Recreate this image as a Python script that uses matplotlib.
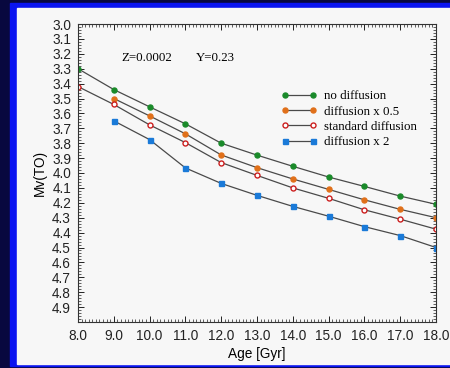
import numpy as np
import matplotlib.pyplot as plt
from matplotlib.patches import Rectangle
from matplotlib.ticker import MultipleLocator, FormatStrFormatter

# ---- data ----
age_full = [8, 9, 10, 11, 12, 13, 14, 15, 16, 17, 18]
age_part = [9, 10, 11, 12, 13, 14, 15, 16, 17, 18]

no_diff = [3.30, 3.44, 3.556, 3.67, 3.80, 3.88, 3.955, 4.027, 4.09, 4.155, 4.21]
diff_half = [3.50, 3.617, 3.737, 3.879, 3.964, 4.04, 4.11, 4.18, 4.244, 4.30]
std_diff = [3.42, 3.54, 3.677, 3.796, 3.93, 4.016, 4.10, 4.17, 4.247, 4.31, 4.377]
diff_two = [3.65, 3.776, 3.966, 4.07, 4.15, 4.224, 4.29, 4.36, 4.42, 4.50]

y_ticks = np.round(np.arange(3.0, 4.95, 0.1), 1)
x_ticks = np.arange(8, 19, 1)

W, H = 450, 368
fig = plt.figure(figsize=(W / 100, H / 100), dpi=100)
fig.patch.set_facecolor('#08083f')

# blue frame + white panel (slide look)
fig.patches.append(Rectangle((10 / W, 1 - 366 / H), 1, (366 - 3) / H,
                             transform=fig.transFigure, color='#0a14f0', zorder=-2))
fig.patches.append(Rectangle((17 / W, 1 - 364 / H), 1, (364 - 8) / H,
                             transform=fig.transFigure, color='#f7f7f7', zorder=-1))

ax = fig.add_axes([78 / W, 1 - 322 / H, (436 - 78) / W, (322 - 24) / H])
ax.set_zorder(1)
ax.set_facecolor('#f7f7f7')

line_kw = dict(color='#4a4a4a', lw=0.9, markersize=3.6)
ax.plot(age_full, no_diff, marker='o', mfc='#1a8a2a', mec='#1a8a2a',
        label='no diffusion', **line_kw)
ax.plot(age_part, diff_half, marker='o', mfc='#e0701a', mec='#e0701a',
        label='diffusion x 0.5', **line_kw)
ax.plot(age_full, std_diff, marker='o', mfc='white', mec='#cc1f1f', mew=1.0,
        label='standard diffusion', **line_kw)
ax.plot(age_part, diff_two, marker='s', mfc='#1a7ad8', mec='#1a7ad8',
        label='diffusion x 2', **line_kw)

ax.set_xlim(8, 18)
ax.set_ylim(5.0, 3.0)
ax.set_xticks(x_ticks)
ax.set_yticks(y_ticks)
ax.xaxis.set_major_formatter(FormatStrFormatter('%.1f'))
ax.yaxis.set_major_formatter(FormatStrFormatter('%.1f'))
ax.xaxis.set_minor_locator(MultipleLocator(0.1))
ax.yaxis.set_minor_locator(MultipleLocator(0.02))
ax.tick_params(which='both', direction='in', top=True, right=True,
               labelsize=9.8, colors='#222222', pad=5)
ax.tick_params(which='major', length=4, width=0.7)
ax.tick_params(which='minor', length=2, width=0.5)
for lab in ax.get_xticklabels() + ax.get_yticklabels():
    lab.set_family('Liberation Sans')
for s in ax.spines.values():
    s.set_linewidth(0.8)
    s.set_color('#333333')

ax.set_xlabel('Age [Gyr]', fontsize=9.8, family='Liberation Sans', labelpad=3)
ax.set_ylabel('Mv(TO)', fontsize=9.8, family='Liberation Sans', labelpad=4)

ax.text(9.2, 3.225, 'Z=0.0002', fontsize=9.3, family='Liberation Serif',
        va='center')
ax.text(11.3, 3.225, 'Y=0.23', fontsize=9.3, family='Liberation Serif',
        va='center')

ax.legend(loc='upper left', bbox_to_anchor=(0.553, 0.795), frameon=False,
          prop={'family': 'Liberation Serif', 'size': 9.3},
          handlelength=2.8, handletextpad=0.5, labelspacing=0.25,
          numpoints=2, borderaxespad=0)

fig.savefig('out.png', dpi=100, facecolor=fig.get_facecolor())
